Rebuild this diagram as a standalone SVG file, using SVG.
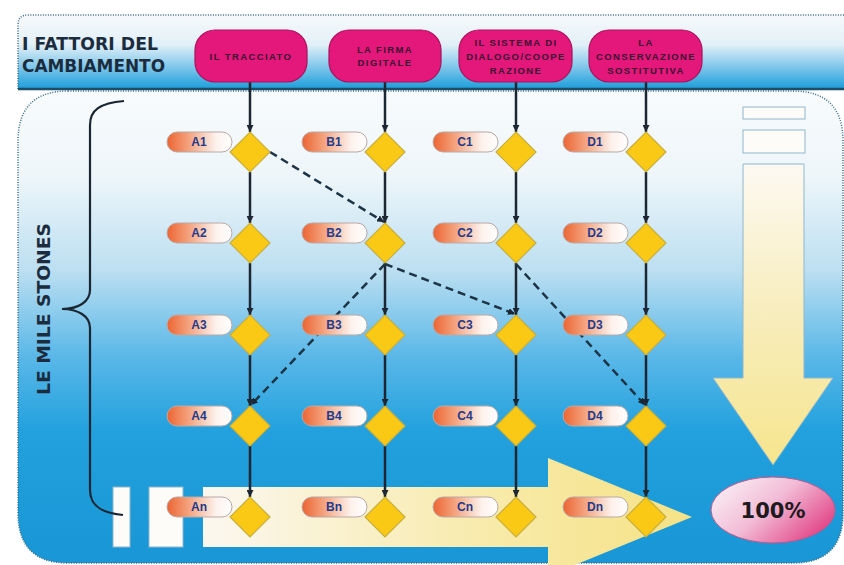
<svg xmlns="http://www.w3.org/2000/svg" width="844" height="565" viewBox="0 0 844 565">
  <defs>
    <linearGradient id="gHeader" x1="0" y1="0" x2="0" y2="1">
      <stop offset="0" stop-color="#f7f9fa"/>
      <stop offset="0.4" stop-color="#e2f0f8"/>
      <stop offset="1" stop-color="#1c9edb"/>
    </linearGradient>
    <linearGradient id="gPanel" x1="0" y1="0" x2="0" y2="1">
      <stop offset="0" stop-color="#f8fbfc"/>
      <stop offset="0.18" stop-color="#eef6fa"/>
      <stop offset="0.38" stop-color="#bcdff1"/>
      <stop offset="0.56" stop-color="#5bb8e8"/>
      <stop offset="0.72" stop-color="#22a1de"/>
      <stop offset="1" stop-color="#1896d5"/>
    </linearGradient>
    <linearGradient id="gPill" x1="0" y1="0" x2="1" y2="0">
      <stop offset="0" stop-color="#ec6432"/>
      <stop offset="0.35" stop-color="#f4a682"/>
      <stop offset="0.75" stop-color="#fdf1ec"/>
      <stop offset="1" stop-color="#ffffff"/>
    </linearGradient>
    <linearGradient id="gDown" x1="0" y1="0" x2="0" y2="1">
      <stop offset="0" stop-color="#fdf9f2"/>
      <stop offset="0.5" stop-color="#f7edbc"/>
      <stop offset="1" stop-color="#f6e58e"/>
    </linearGradient>
    <linearGradient id="gRight" x1="0" y1="0" x2="1" y2="0">
      <stop offset="0" stop-color="#fbf7ef"/>
      <stop offset="0.6" stop-color="#f8eaa8"/>
      <stop offset="1" stop-color="#f5e287"/>
    </linearGradient>
    <linearGradient id="gGoal" x1="0" y1="0.2" x2="1" y2="0.8">
      <stop offset="0" stop-color="#faeef4"/>
      <stop offset="0.45" stop-color="#f2bcd6"/>
      <stop offset="1" stop-color="#e0387f"/>
    </linearGradient>
    <marker id="ah" viewBox="0 0 8 8" refX="8" refY="4" markerWidth="7" markerHeight="7" markerUnits="userSpaceOnUse" orient="auto">
      <path d="M0,0 L8,4 L0,8 z" fill="#1c2733"/>
    </marker>
    <style>
      .hdr { font-family: "DejaVu Sans", "Liberation Sans", sans-serif; font-weight: bold; font-size: 17px; fill: #1b2c3e; }
      .side { font-family: "DejaVu Sans", "Liberation Sans", sans-serif; font-weight: bold; font-size: 18px; fill: #1b2c3e; }
      .factor rect { fill: #e4177a; stroke: #a8125c; stroke-width: 1.2; }
      .factor text { font-family: "Liberation Sans", Arial, sans-serif; font-weight: bold; font-size: 9.5px; fill: #3b1232; text-anchor: middle; letter-spacing: 1.4px; }
      .step rect { fill: url(#gPill); stroke: #b9a9a6; stroke-width: 1; }
      .step text { font-family: "Liberation Sans", Arial, sans-serif; font-weight: bold; font-size: 12px; fill: #243a8a; text-anchor: middle; }
      .step path { fill: #f9c916; stroke: #c7ae3e; stroke-width: 1.2; }
      .flow { stroke: #1c2733; stroke-width: 2.5; fill: none; marker-end: url(#ah); }
      .jump { stroke: #1c3446; stroke-width: 2.5; fill: none; stroke-dasharray: 8 5; marker-end: url(#ah); }
      .slot { fill: #fdfcf8; stroke: #8fb6cc; stroke-width: 1; }
    </style>
  </defs>

  <rect width="844" height="565" fill="#ffffff"/>

  <!-- header band -->
  <g id="header">
    <path d="M18,89 L18,25 Q18,15 28,15 L844,15 L844,89 z" fill="url(#gHeader)"/>
    <path d="M18,89 L18,25 Q18,15 28,15 L844,15" fill="none" stroke="#3a6a86" stroke-width="1.5" stroke-dasharray="1 1.5"/>
    <line x1="18" y1="89" x2="844" y2="89" stroke="#1c4e68" stroke-width="2.5"/>
    <text class="hdr" x="22" y="50" textLength="136" lengthAdjust="spacingAndGlyphs">I FATTORI DEL</text>
    <text class="hdr" x="22" y="72" textLength="143" lengthAdjust="spacingAndGlyphs">CAMBIAMENTO</text>
  </g>

  <!-- main panel -->
  <g id="panel">
    <path d="M68,91 L793,91 Q843,91 843,141 L843,513 Q843,563 793,563 L68,563 Q18,563 18,513 L18,141 Q18,91 68,91 z" fill="url(#gPanel)" stroke="#3a6a86" stroke-width="1.5" stroke-dasharray="1 1.5"/>
  </g>

  <!-- large progress arrows -->
  <g id="progress-down">
    <rect class="slot" x="743" y="107" width="62" height="12"/>
    <rect class="slot" x="743" y="130" width="62" height="23"/>
    <path d="M743,164 L804,164 L804,378 L833,378 L773,465 L713,378 L743,378 z" fill="url(#gDown)" stroke="#8fb6cc" stroke-width="1"/>
  </g>
  <g id="progress-right">
    <rect class="slot" x="113" y="487" width="17" height="60"/>
    <rect class="slot" x="149" y="487" width="34" height="60"/>
    <path d="M203,487 L548,487 L548,458 L692,517 L548,576 L548,547 L203,547 z" fill="url(#gRight)"/>
  </g>

  <!-- milestone brace and label -->
  <g id="milestones">
    <path d="M124,101 C100,103 90,110 90,125 L90,290 C90,302 78,309 62,309 C78,309 90,316 90,328 L90,490 C90,505 100,513 123,515" fill="none" stroke="#1b2633" stroke-width="2.2"/>
    <text class="side" transform="translate(50,395) rotate(-90)" x="0" y="0" textLength="172" lengthAdjust="spacingAndGlyphs">LE MILE STONES</text>
  </g>

  <!-- goal -->
  <g id="goal">
    <ellipse cx="773" cy="510" rx="62" ry="33" fill="url(#gGoal)" stroke="#c2568a" stroke-width="1"/>
    <text x="773" y="518" text-anchor="middle" font-family="DejaVu Sans, Liberation Sans, sans-serif" font-weight="bold" font-size="21" fill="#1e1a1e">100%</text>
  </g>

  <!-- connectors -->
  <g id="connectors">
    <!-- column A -->
    <line class="flow" x1="250" y1="82" x2="250" y2="132"/>
    <line class="flow" x1="250" y1="172" x2="250" y2="223"/>
    <line class="flow" x1="250" y1="263" x2="250" y2="315"/>
    <line class="flow" x1="250" y1="355" x2="250" y2="406"/>
    <line class="flow" x1="250" y1="446" x2="250" y2="497"/>
    <!-- column B -->
    <line class="flow" x1="385" y1="82" x2="385" y2="132"/>
    <line class="flow" x1="385" y1="172" x2="385" y2="223"/>
    <line class="flow" x1="385" y1="263" x2="385" y2="315"/>
    <line class="flow" x1="385" y1="355" x2="385" y2="406"/>
    <line class="flow" x1="385" y1="446" x2="385" y2="497"/>
    <!-- column C -->
    <line class="flow" x1="516" y1="82" x2="516" y2="132"/>
    <line class="flow" x1="516" y1="172" x2="516" y2="223"/>
    <line class="flow" x1="516" y1="263" x2="516" y2="315"/>
    <line class="flow" x1="516" y1="355" x2="516" y2="406"/>
    <line class="flow" x1="516" y1="446" x2="516" y2="497"/>
    <!-- column D -->
    <line class="flow" x1="646" y1="82" x2="646" y2="132"/>
    <line class="flow" x1="646" y1="172" x2="646" y2="223"/>
    <line class="flow" x1="646" y1="263" x2="646" y2="315"/>
    <line class="flow" x1="646" y1="355" x2="646" y2="406"/>
    <line class="flow" x1="646" y1="446" x2="646" y2="497"/>
    <!-- cross dependencies -->
    <line class="jump" x1="270" y1="152" x2="384" y2="222"/>
    <line class="jump" x1="385" y1="264" x2="251" y2="405"/>
    <line class="jump" x1="385" y1="264" x2="515" y2="314"/>
    <line class="jump" x1="516" y1="264" x2="645" y2="405"/>
  </g>

  <!-- change factors -->
  <g id="factor-tracciato" class="factor">
    <rect x="195" y="30" width="112" height="52" rx="20"/>
    <text x="251" y="60">IL TRACCIATO</text>
  </g>
  <g id="factor-firma" class="factor">
    <rect x="329" y="30" width="112" height="52" rx="20"/>
    <text x="385" y="53">LA FIRMA</text>
    <text x="385" y="66">DIGITALE</text>
  </g>
  <g id="factor-dialogo" class="factor">
    <rect x="459" y="30" width="113" height="52" rx="20"/>
    <text x="516" y="46">IL SISTEMA DI</text>
    <text x="516" y="60">DIALOGO/COOPE</text>
    <text x="516" y="74">RAZIONE</text>
  </g>
  <g id="factor-conservazione" class="factor">
    <rect x="589" y="30" width="113" height="52" rx="20"/>
    <text x="646" y="46">LA</text>
    <text x="646" y="60">CONSERVAZIONE</text>
    <text x="646" y="74">SOSTITUTIVA</text>
  </g>

  <!-- milestone steps: label pill + decision diamond -->
  <g id="A1" class="step"><rect x="167" y="132" width="65" height="20" rx="10"/><text x="199" y="146">A1</text><path d="M250,132 L270,152 L250,172 L230,152 z"/></g>
  <g id="A2" class="step"><rect x="167" y="223" width="65" height="20" rx="10"/><text x="199" y="237">A2</text><path d="M250,223 L270,243 L250,263 L230,243 z"/></g>
  <g id="A3" class="step"><rect x="167" y="315" width="65" height="20" rx="10"/><text x="199" y="329">A3</text><path d="M250,315 L270,335 L250,355 L230,335 z"/></g>
  <g id="A4" class="step"><rect x="167" y="406" width="65" height="20" rx="10"/><text x="199" y="420">A4</text><path d="M250,406 L270,426 L250,446 L230,426 z"/></g>
  <g id="An" class="step"><rect x="167" y="497" width="65" height="20" rx="10"/><text x="199" y="511">An</text><path d="M250,497 L270,517 L250,537 L230,517 z"/></g>

  <g id="B1" class="step"><rect x="302" y="132" width="65" height="20" rx="10"/><text x="334" y="146">B1</text><path d="M385,132 L405,152 L385,172 L365,152 z"/></g>
  <g id="B2" class="step"><rect x="302" y="223" width="65" height="20" rx="10"/><text x="334" y="237">B2</text><path d="M385,223 L405,243 L385,263 L365,243 z"/></g>
  <g id="B3" class="step"><rect x="302" y="315" width="65" height="20" rx="10"/><text x="334" y="329">B3</text><path d="M385,315 L405,335 L385,355 L365,335 z"/></g>
  <g id="B4" class="step"><rect x="302" y="406" width="65" height="20" rx="10"/><text x="334" y="420">B4</text><path d="M385,406 L405,426 L385,446 L365,426 z"/></g>
  <g id="Bn" class="step"><rect x="302" y="497" width="65" height="20" rx="10"/><text x="334" y="511">Bn</text><path d="M385,497 L405,517 L385,537 L365,517 z"/></g>

  <g id="C1" class="step"><rect x="433" y="132" width="65" height="20" rx="10"/><text x="465" y="146">C1</text><path d="M516,132 L536,152 L516,172 L496,152 z"/></g>
  <g id="C2" class="step"><rect x="433" y="223" width="65" height="20" rx="10"/><text x="465" y="237">C2</text><path d="M516,223 L536,243 L516,263 L496,243 z"/></g>
  <g id="C3" class="step"><rect x="433" y="315" width="65" height="20" rx="10"/><text x="465" y="329">C3</text><path d="M516,315 L536,335 L516,355 L496,335 z"/></g>
  <g id="C4" class="step"><rect x="433" y="406" width="65" height="20" rx="10"/><text x="465" y="420">C4</text><path d="M516,406 L536,426 L516,446 L496,426 z"/></g>
  <g id="Cn" class="step"><rect x="433" y="497" width="65" height="20" rx="10"/><text x="465" y="511">Cn</text><path d="M516,497 L536,517 L516,537 L496,517 z"/></g>

  <g id="D1" class="step"><rect x="563" y="132" width="65" height="20" rx="10"/><text x="595" y="146">D1</text><path d="M646,132 L666,152 L646,172 L626,152 z"/></g>
  <g id="D2" class="step"><rect x="563" y="223" width="65" height="20" rx="10"/><text x="595" y="237">D2</text><path d="M646,223 L666,243 L646,263 L626,243 z"/></g>
  <g id="D3" class="step"><rect x="563" y="315" width="65" height="20" rx="10"/><text x="595" y="329">D3</text><path d="M646,315 L666,335 L646,355 L626,335 z"/></g>
  <g id="D4" class="step"><rect x="563" y="406" width="65" height="20" rx="10"/><text x="595" y="420">D4</text><path d="M646,406 L666,426 L646,446 L626,426 z"/></g>
  <g id="Dn" class="step"><rect x="563" y="497" width="65" height="20" rx="10"/><text x="595" y="511">Dn</text><path d="M646,497 L666,517 L646,537 L626,517 z"/></g>
</svg>
